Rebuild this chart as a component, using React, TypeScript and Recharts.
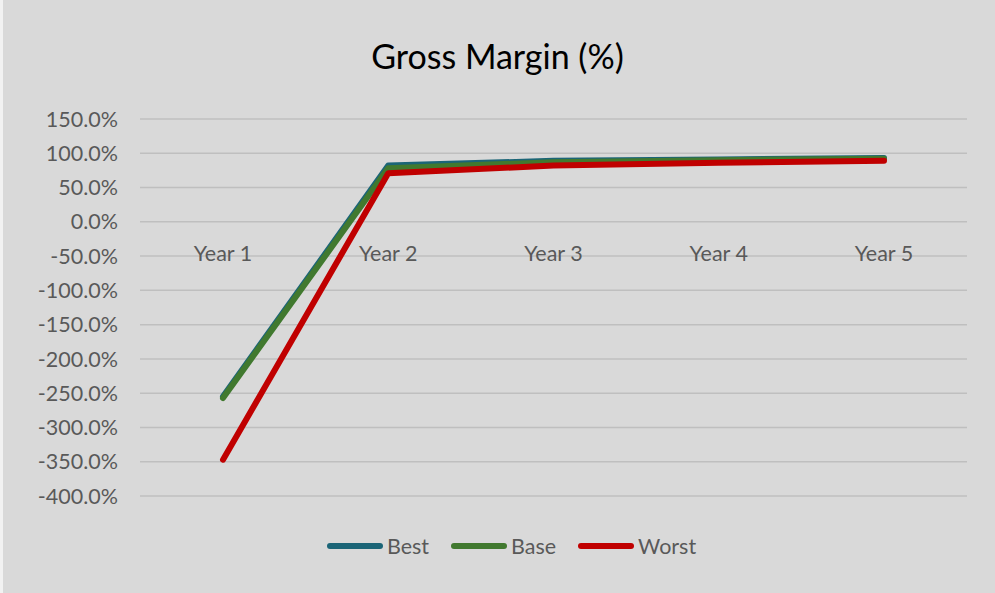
import React from "react";
import {
  LineChart,
  Line,
  XAxis,
  YAxis,
  CartesianGrid,
  Legend,
  ReferenceDot,
} from "recharts";

const years = ["Year 1", "Year 2", "Year 3", "Year 4", "Year 5"];
const best = [-255, 82, 89, 91, 93];
const base = [-257, 78, 87, 90, 92];
const worst = [-347, 71, 82, 86, 89];
const yTicks = [150, 100, 50, 0, -50, -100, -150, -200, -250, -300, -350, -400];
const seriesOrder = ["Best", "Base", "Worst"];

const data = years.map((year, i) => ({
  year,
  Best: best[i],
  Base: base[i],
  Worst: worst[i],
}));

const FONT = "Lato, 'Open Sans', sans-serif";
const TEXT = "#595959";

function YearLabel(props: any) {
  const { viewBox, value } = props;
  const cx = viewBox.x + (viewBox.width || 0) / 2;
  const cy = viewBox.y + (viewBox.height || 0) / 2;
  return (
    <text
      x={cx}
      y={cy + 31}
      textAnchor="middle"
      dominantBaseline="central"
      fill={TEXT}
      fontSize={21.5}
      fontFamily={FONT}
    >
      {value}
    </text>
  );
}

function LegendRow(props: any) {
  const items = [...(props.payload || [])].sort(
    (a: any, b: any) => seriesOrder.indexOf(a.value) - seriesOrder.indexOf(b.value)
  );
  return (
    <div
      style={{
        display: "flex",
        justifyContent: "center",
        alignItems: "center",
        gap: 22,
        fontFamily: FONT,
        fontSize: 21.5,
        color: TEXT,
      }}
    >
      {items.map((p: any) => (
        <div key={p.value} style={{ display: "flex", alignItems: "center" }}>
          <span
            style={{
              display: "inline-block",
              width: 56,
              height: 6,
              borderRadius: 3,
              background: p.color,
              marginRight: 4,
            }}
          />
          <span>{p.value}</span>
        </div>
      ))}
    </div>
  );
}

export default function App() {
  return (
    <div
      style={{
        position: "absolute",
        left: 0,
        top: 0,
        width: 995,
        height: 593,
        background: "#d9d9d9",
        borderLeft: "3px solid #f2f2f2",
        boxSizing: "border-box",
        overflow: "hidden",
      }}
    >
      <div
        style={{
          position: "absolute",
          left: -3,
          top: 35,
          width: 995,
          textAlign: "center",
          fontFamily: FONT,
          fontSize: 34,
          color: "#000",
        }}
      >
        Gross Margin (%)
      </div>
      <div style={{ position: "absolute", left: -3, top: 0 }}>
        <LineChart
          width={995}
          height={593}
          data={data}
          margin={{ top: 119, right: 28, bottom: 97, left: 0 }}
        >
          <CartesianGrid
            vertical={false}
            stroke="#bfbfbf"
            strokeWidth={1.5}
          />
          <XAxis
            dataKey="year"
            hide
            padding={{ left: 83, right: 83 }}
          />
          <YAxis
            width={140}
            domain={[-400, 150]}
            ticks={yTicks}
            interval={0}
            axisLine={false}
            tickLine={false}
            tickSize={0}
            tickMargin={22}
            tick={{ fill: TEXT, fontSize: 21.5, fontFamily: FONT }}
            tickFormatter={(v: number) => `${v.toFixed(1)}%`}
          />
          {years.map((y) => (
            <ReferenceDot
              key={y}
              x={y}
              y={0}
              r={0}
              stroke="none"
              fill="none"
              label={<YearLabel value={y} />}
            />
          ))}
          <Line
            dataKey="Best"
            stroke="#1b6577"
            strokeWidth={6}
            strokeLinecap="round"
            strokeLinejoin="round"
            dot={false}
            type="linear"
            isAnimationActive={false}
          />
          <Line
            dataKey="Base"
            stroke="#41792f"
            strokeWidth={6}
            strokeLinecap="round"
            strokeLinejoin="round"
            dot={false}
            type="linear"
            isAnimationActive={false}
          />
          <Line
            dataKey="Worst"
            stroke="#c00000"
            strokeWidth={6}
            strokeLinecap="round"
            strokeLinejoin="round"
            dot={false}
            type="linear"
            isAnimationActive={false}
          />
          <Legend
            layout="horizontal"
            align="center"
            verticalAlign="middle"
            wrapperStyle={{ top: 533, left: 14, width: 995 }}
            content={<LegendRow />}
          />
        </LineChart>
      </div>
    </div>
  );
}
